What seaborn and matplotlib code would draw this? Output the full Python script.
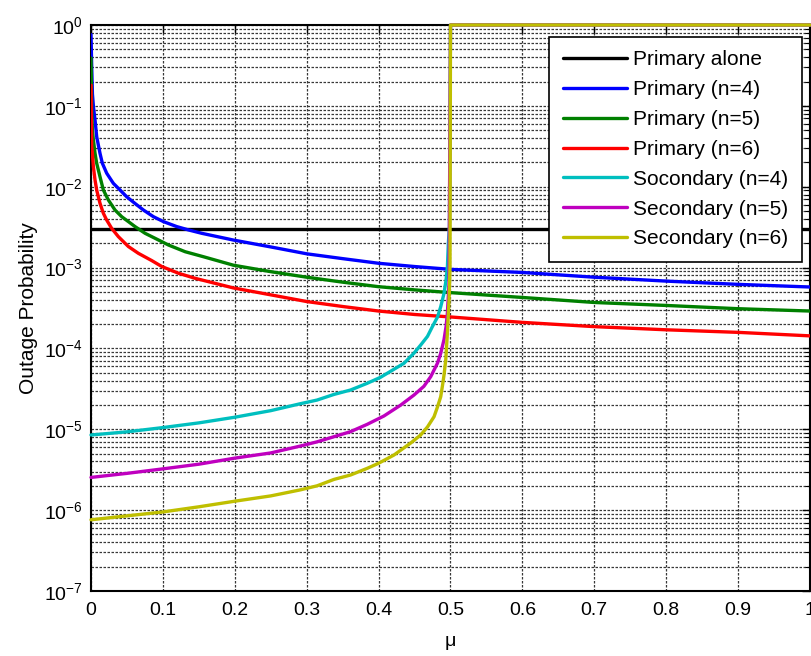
import numpy as np
import pandas as pd
import matplotlib
matplotlib.use("Agg")
import matplotlib.pyplot as plt
import seaborn as sns
from matplotlib.ticker import LogLocator, FixedLocator

# ---------------- data ----------------
series_names = ["Primary alone", "Primary (n=4)", "Primary (n=5)", "Primary (n=6)",
                "Socondary (n=4)", "Secondary (n=5)", "Secondary (n=6)"]

mu_alone = [0.0, 1.0]
p_alone = [3.0e-3, 3.0e-3]

mu_p4 = [0.0, 0.001, 0.002, 0.0035, 0.0056, 0.0079, 0.0125, 0.0158, 0.0218, 0.0311,
         0.0404, 0.0497, 0.0613, 0.0729, 0.0868, 0.1008, 0.1194, 0.1356, 0.1543, 0.198,
         0.25, 0.30, 0.35, 0.40, 0.45, 0.50, 0.60, 0.70, 0.80, 0.90, 1.00]
p_p4 = [7.6e-1, 3.0e-1, 1.4e-1, 9.5e-2, 6.7e-2, 4.16e-2, 2.59e-2, 1.95e-2, 1.47e-2,
        1.10e-2, 9.1e-3, 7.5e-3, 6.2e-3, 5.15e-3, 4.26e-3, 3.7e-3, 3.21e-3, 2.92e-3,
        2.65e-3, 2.19e-3, 1.8e-3, 1.48e-3, 1.29e-3, 1.13e-3, 1.03e-3, 9.5e-4, 8.7e-4,
        7.6e-4, 6.8e-4, 6.2e-4, 5.75e-4]

mu_p5 = [0.0, 0.001, 0.0019, 0.0033, 0.0056, 0.0079, 0.0125, 0.0172, 0.0241, 0.0334,
         0.0427, 0.052, 0.0613, 0.0753, 0.0892, 0.1078, 0.131, 0.1566, 0.198, 0.25,
         0.30, 0.35, 0.40, 0.45, 0.50, 0.60, 0.70, 0.80, 0.90, 1.00]
p_p5 = [3.9e-1, 9.0e-2, 5.0e-2, 3.8e-2, 2.59e-2, 1.95e-2, 1.33e-2, 9.1e-3, 6.86e-3,
        5.15e-3, 4.26e-3, 3.7e-3, 3.21e-3, 2.65e-3, 2.3e-3, 1.9e-3, 1.57e-3, 1.36e-3,
        1.07e-3, 8.9e-4, 7.6e-4, 6.6e-4, 5.8e-4, 5.3e-4, 4.9e-4, 4.27e-4, 3.7e-4,
        3.4e-4, 3.1e-4, 2.9e-4]

mu_p6 = [0.0, 0.001, 0.0019, 0.0033, 0.0056, 0.0079, 0.0125, 0.0172, 0.0218, 0.0288,
         0.0381, 0.052, 0.0659, 0.0845, 0.0985, 0.1217, 0.145, 0.198, 0.25, 0.30, 0.35,
         0.40, 0.45, 0.50, 0.60, 0.70, 0.80, 0.90, 1.00]
p_p6 = [1.8e-1, 3.13e-2, 2.59e-2, 1.77e-2, 1.21e-2, 9.1e-3, 6.24e-3, 4.69e-3, 3.87e-3,
        3.05e-3, 2.41e-3, 1.82e-3, 1.5e-3, 1.22e-3, 1.03e-3, 8.5e-4, 7.36e-4, 5.6e-4,
        4.6e-4, 3.8e-4, 3.3e-4, 2.9e-4, 2.63e-4, 2.45e-4, 2.1e-4, 1.86e-4, 1.7e-4,
        1.58e-4, 1.43e-4]

mu_s4 = [0.0, 0.05, 0.1, 0.15, 0.2, 0.25, 0.291, 0.3145, 0.338, 0.361, 0.384, 0.4028,
         0.421, 0.4353, 0.449, 0.4585, 0.468, 0.4748, 0.482, 0.4864, 0.491, 0.4938,
         0.4957, 0.497, 0.4985, 0.5, 1.0]
p_s4 = [8.5e-6, 9.3e-6, 1.05e-5, 1.2e-5, 1.41e-5, 1.7e-5, 2.07e-5, 2.3e-5, 2.7e-5,
        3.06e-5, 3.7e-5, 4.4e-5, 5.5e-5, 6.55e-5, 8.7e-5, 1.1e-4, 1.41e-4, 1.86e-4,
        2.45e-4, 3.28e-4, 4.8e-4, 7.0e-4, 1.02e-3, 2.0e-3, 3.2e-3, 1.0, 1.0]

mu_s5 = [0.0, 0.05, 0.1, 0.15, 0.2, 0.25, 0.291, 0.3145, 0.338, 0.361, 0.384, 0.4074,
         0.431, 0.4492, 0.463, 0.4725, 0.482, 0.4864, 0.491, 0.4938, 0.4957, 0.498,
         0.5, 1.0]
p_s5 = [2.54e-6, 2.85e-6, 3.24e-6, 3.7e-6, 4.4e-6, 5.1e-6, 6.2e-6, 7.0e-6, 8.1e-6,
        9.35e-6, 1.15e-5, 1.46e-5, 2.0e-5, 2.65e-5, 3.4e-5, 4.48e-5, 6.6e-5, 8.7e-5,
        1.29e-4, 1.86e-4, 2.75e-4, 6.5e-4, 1.0, 1.0]

mu_s6 = [0.0, 0.05, 0.1, 0.15, 0.2, 0.25, 0.291, 0.3145, 0.338, 0.361, 0.3842, 0.40,
         0.4213, 0.445, 0.4585, 0.468, 0.4771, 0.482, 0.4864, 0.4887, 0.491, 0.4934,
         0.4957, 0.498, 0.4993, 0.5, 1.0]
p_s6 = [7.6e-7, 8.5e-7, 9.5e-7, 1.1e-6, 1.29e-6, 1.5e-6, 1.78e-6, 2.0e-6, 2.4e-6,
        2.72e-6, 3.29e-6, 3.8e-6, 4.8e-6, 6.8e-6, 8.5e-6, 1.07e-5, 1.43e-5, 1.9e-5,
        2.53e-5, 3.4e-5, 4.7e-5, 7.2e-5, 1.55e-4, 4.0e-4, 1.0e-3, 1.0, 1.0]

series_colors = ["#000000", "#0000ff", "#008000", "#ff0000", "#00bfbf", "#bf00bf", "#bfbf00"]

x_ticks = [0, 0.1, 0.2, 0.3, 0.4, 0.5, 0.6, 0.7, 0.8, 0.9, 1]
x_ticklabels = ["0", "0.1", "0.2", "0.3", "0.4", "0.5", "0.6", "0.7", "0.8", "0.9", "1"]

# ---------------- build long-form table ----------------
all_mu = [mu_alone, mu_p4, mu_p5, mu_p6, mu_s4, mu_s5, mu_s6]
all_p = [p_alone, p_p4, p_p5, p_p6, p_s4, p_s5, p_s6]
frames = []
for name, m, p in zip(series_names, all_mu, all_p):
    frames.append(pd.DataFrame({"mu": m, "P": p, "series": name}))
df = pd.concat(frames, ignore_index=True)

# ---------------- style ----------------
sns.set_style("white")
plt.rcParams["font.family"] = ["Liberation Sans", "DejaVu Sans"]
plt.rcParams["mathtext.fontset"] = "custom"
plt.rcParams["mathtext.rm"] = "Liberation Sans"
plt.rcParams["mathtext.default"] = "regular"
plt.rcParams["axes.unicode_minus"] = False
for key in ["text.color", "axes.labelcolor", "xtick.color", "ytick.color"]:
    plt.rcParams[key] = "black"

fig = plt.figure(figsize=(8.12, 6.56), dpi=100)
ax = fig.add_axes([91 / 812, 65 / 656, 719 / 812, 566 / 656])

for name, col in zip(series_names, series_colors):
    sub = df[df["series"] == name]
    clip = not (name.startswith("Sec") or name.startswith("Soc"))
    sns.lineplot(data=sub, x="mu", y="P", ax=ax, color=col, lw=2.4, label=name,
                 estimator=None, sort=False, zorder=3, clip_on=clip)

ax.set_yscale("log")
ax.set_xlim(0, 1)
ax.set_ylim(1e-7, 1e0)

ax.xaxis.set_major_locator(FixedLocator(x_ticks))
ax.set_xticklabels(x_ticklabels)
ax.yaxis.set_major_locator(LogLocator(base=10, numticks=20))
ax.yaxis.set_minor_locator(LogLocator(base=10, subs=np.arange(2, 10), numticks=200))

grid_kw = dict(color="0.22", linestyle=(0, (2, 1.2)), linewidth=0.9)
ax.grid(True, which="major", axis="both", **grid_kw)
ax.grid(True, which="minor", axis="y", **grid_kw)
ax.set_axisbelow(True)

ax.tick_params(which="both", direction="in", top=True, right=True, colors="black",
               labelsize=14)
ax.tick_params(which="major", length=6, width=1.0, pad=6)
ax.tick_params(which="minor", length=3.5, width=0.8)
ax.tick_params(axis="x", which="major", pad=8)
for s in ax.spines.values():
    s.set_color("black")
    s.set_linewidth(1.5)

ax.set_xlabel("μ", fontsize=14, labelpad=10, color="black")
ax.set_ylabel("Outage Probability", fontsize=15, labelpad=4, color="black")

leg = ax.legend(loc="upper right", bbox_to_anchor=(0.989, 0.979), borderaxespad=0,
                fontsize=15, handlelength=3.1, handletextpad=0.3, labelspacing=0.52,
                borderpad=0.65, fancybox=False, framealpha=1, edgecolor="black")
leg.get_frame().set_linewidth(1.2)
for line in leg.get_lines():
    line.set_linewidth(2.4)
for t in leg.get_texts():
    t.set_color("black")

fig.savefig("out.png", dpi=100)
